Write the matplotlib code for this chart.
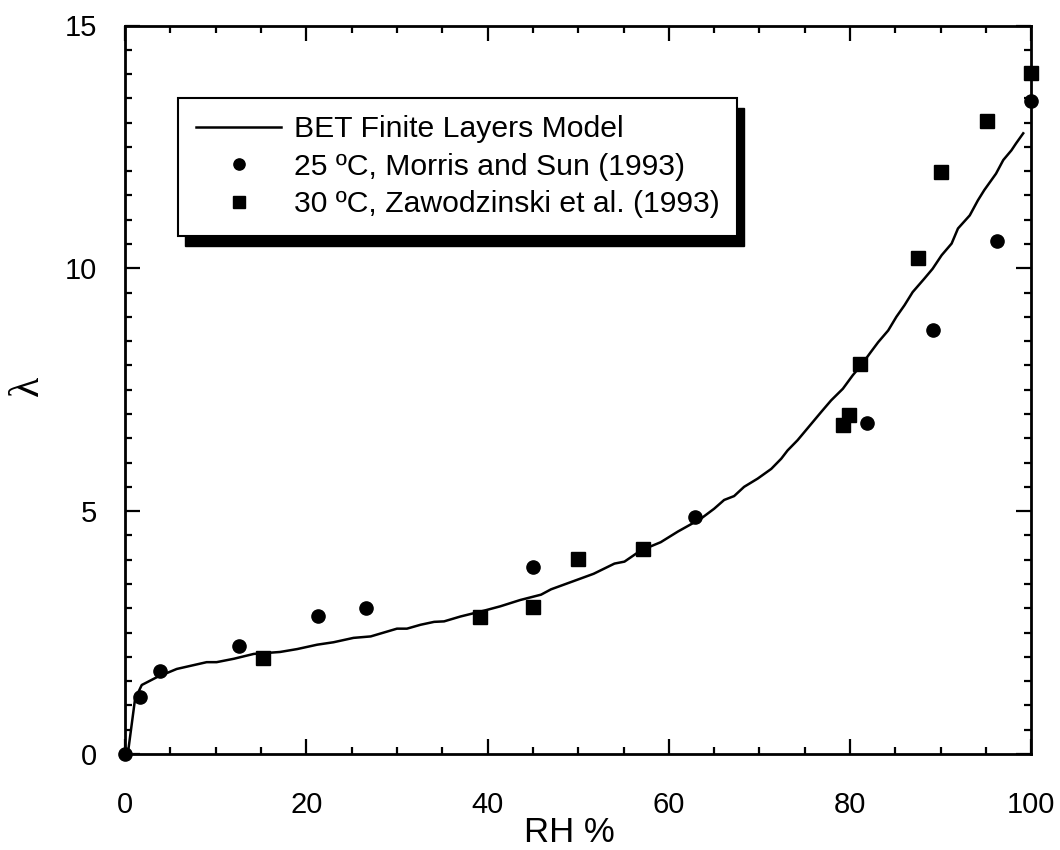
import numpy as np
import matplotlib
matplotlib.use('Agg')
import matplotlib.pyplot as plt
from matplotlib.patches import Rectangle
from matplotlib.ticker import MultipleLocator

plt.rcParams['font.family'] = ['Liberation Sans', 'DejaVu Sans']

# BET finite layers model curve
bet_rh = [0.3, 1.1, 1.84, 3.5, 5.7, 9.0, 10.1, 12.0, 14.2, 17.1, 19.0, 21.2, 23.0, 25.2, 27.1,
          30.0, 31.1, 32.6, 34.1, 35.2, 37.0, 39.6, 41.4, 43.6, 45.9, 47.0, 49.5, 51.7, 54.0,
          55.1, 56.9, 59.1, 61.0, 63.5, 65.0, 66.1, 67.2, 68.3, 69.8, 71.3, 72.4, 73.1, 74.2,
          76.8, 77.9, 79.2, 80.3, 81.2, 82.3, 83.1, 84.2, 85.1, 86.0, 86.9, 88.2, 89.1, 90.1,
          91.2, 91.9, 93.2, 94.1, 94.8, 96.1, 96.9, 97.8, 98.3, 99.1]
bet_lam = [0.0, 1.13, 1.42, 1.58, 1.75, 1.89, 1.89, 1.96, 2.06, 2.10, 2.16, 2.25, 2.30, 2.39, 2.42,
           2.58, 2.58, 2.66, 2.72, 2.73, 2.83, 2.95, 3.04, 3.17, 3.28, 3.39, 3.56, 3.71, 3.92,
           3.96, 4.19, 4.36, 4.58, 4.84, 5.05, 5.23, 5.31, 5.50, 5.67, 5.87, 6.08, 6.25, 6.46,
           7.04, 7.28, 7.52, 7.80, 8.00, 8.28, 8.48, 8.72, 9.00, 9.24, 9.51, 9.79, 9.99, 10.27,
           10.51, 10.82, 11.09, 11.40, 11.61, 11.95, 12.23, 12.43, 12.57, 12.78]

# 25 C, Morris and Sun (1993)
morris_rh = [0, 1.66, 3.87, 12.6, 21.3, 26.6, 45.0, 62.9, 81.9, 89.2, 96.2, 100.0]
morris_lam = [0, 1.18, 1.70, 2.23, 2.85, 3.01, 3.84, 4.87, 6.82, 8.74, 10.57, 13.44]

# 30 C, Zawodzinski et al. (1993)
zaw_rh = [15.2, 39.2, 45.0, 50.0, 57.1, 79.2, 79.9, 81.1, 87.5, 90.0, 95.1, 100.0]
zaw_lam = [1.98, 2.81, 3.02, 4.01, 4.21, 6.78, 6.97, 8.02, 10.22, 11.99, 13.03, 14.03]

fig = plt.figure(figsize=(10.6, 8.5), dpi=100)
ax = fig.add_axes([0.118, 0.113, 0.855, 0.857])

ax.plot(bet_rh, bet_lam, 'k-', lw=1.8, label='BET Finite Layers Model')
ax.plot(morris_rh, morris_lam, 'ko', ms=9.5, ls='none', clip_on=False, zorder=3,
        label='25 ºC, Morris and Sun (1993)')
ax.plot(zaw_rh, zaw_lam, 'ks', ms=9.5, ls='none', clip_on=False, zorder=3,
        label='30 ºC, Zawodzinski et al. (1993)')

ax.set_xlim(0, 100)
ax.set_ylim(0, 15)
ax.xaxis.set_major_locator(MultipleLocator(20))
ax.xaxis.set_minor_locator(MultipleLocator(5))
ax.yaxis.set_major_locator(MultipleLocator(5))
ax.yaxis.set_minor_locator(MultipleLocator(0.5))
ax.tick_params(which='both', direction='in', top=True, right=True, width=1.6, labelsize=21)
ax.tick_params(which='major', length=11)
ax.tick_params(which='minor', length=5)
ax.tick_params(axis='x', which='major', pad=27)
ax.tick_params(axis='y', which='major', pad=20)
for s in ax.spines.values():
    s.set_linewidth(2)

ax.set_xlabel('RH %', fontsize=25)
ax.xaxis.set_label_coords(0.49, -0.085)
ax.set_ylabel('λ', fontsize=30, family=['Liberation Serif', 'DejaVu Serif'])
ax.yaxis.label.set_verticalalignment('center')
ax.yaxis.set_label_coords(-0.108, 0.505)

leg = ax.legend(loc='upper left', bbox_to_anchor=(0.0585, 0.901), borderaxespad=0,
                fontsize=21.7, handlelength=2.85, handletextpad=0.4, labelspacing=0.32,
                borderpad=0.58, markerscale=0.85, fancybox=False, framealpha=1,
                edgecolor='k')
leg.get_frame().set_linewidth(1.5)

# heavy black drop shadow behind the legend box
fig.canvas.draw()
bb = leg.get_window_extent().transformed(fig.transFigure.inverted())
ax.add_patch(Rectangle((bb.x0 + 7 / 1060, bb.y0 - 10 / 850), bb.width, bb.height,
                       transform=fig.transFigure, color='k', zorder=4.9, clip_on=False))

fig.savefig('out.png', dpi=100)
